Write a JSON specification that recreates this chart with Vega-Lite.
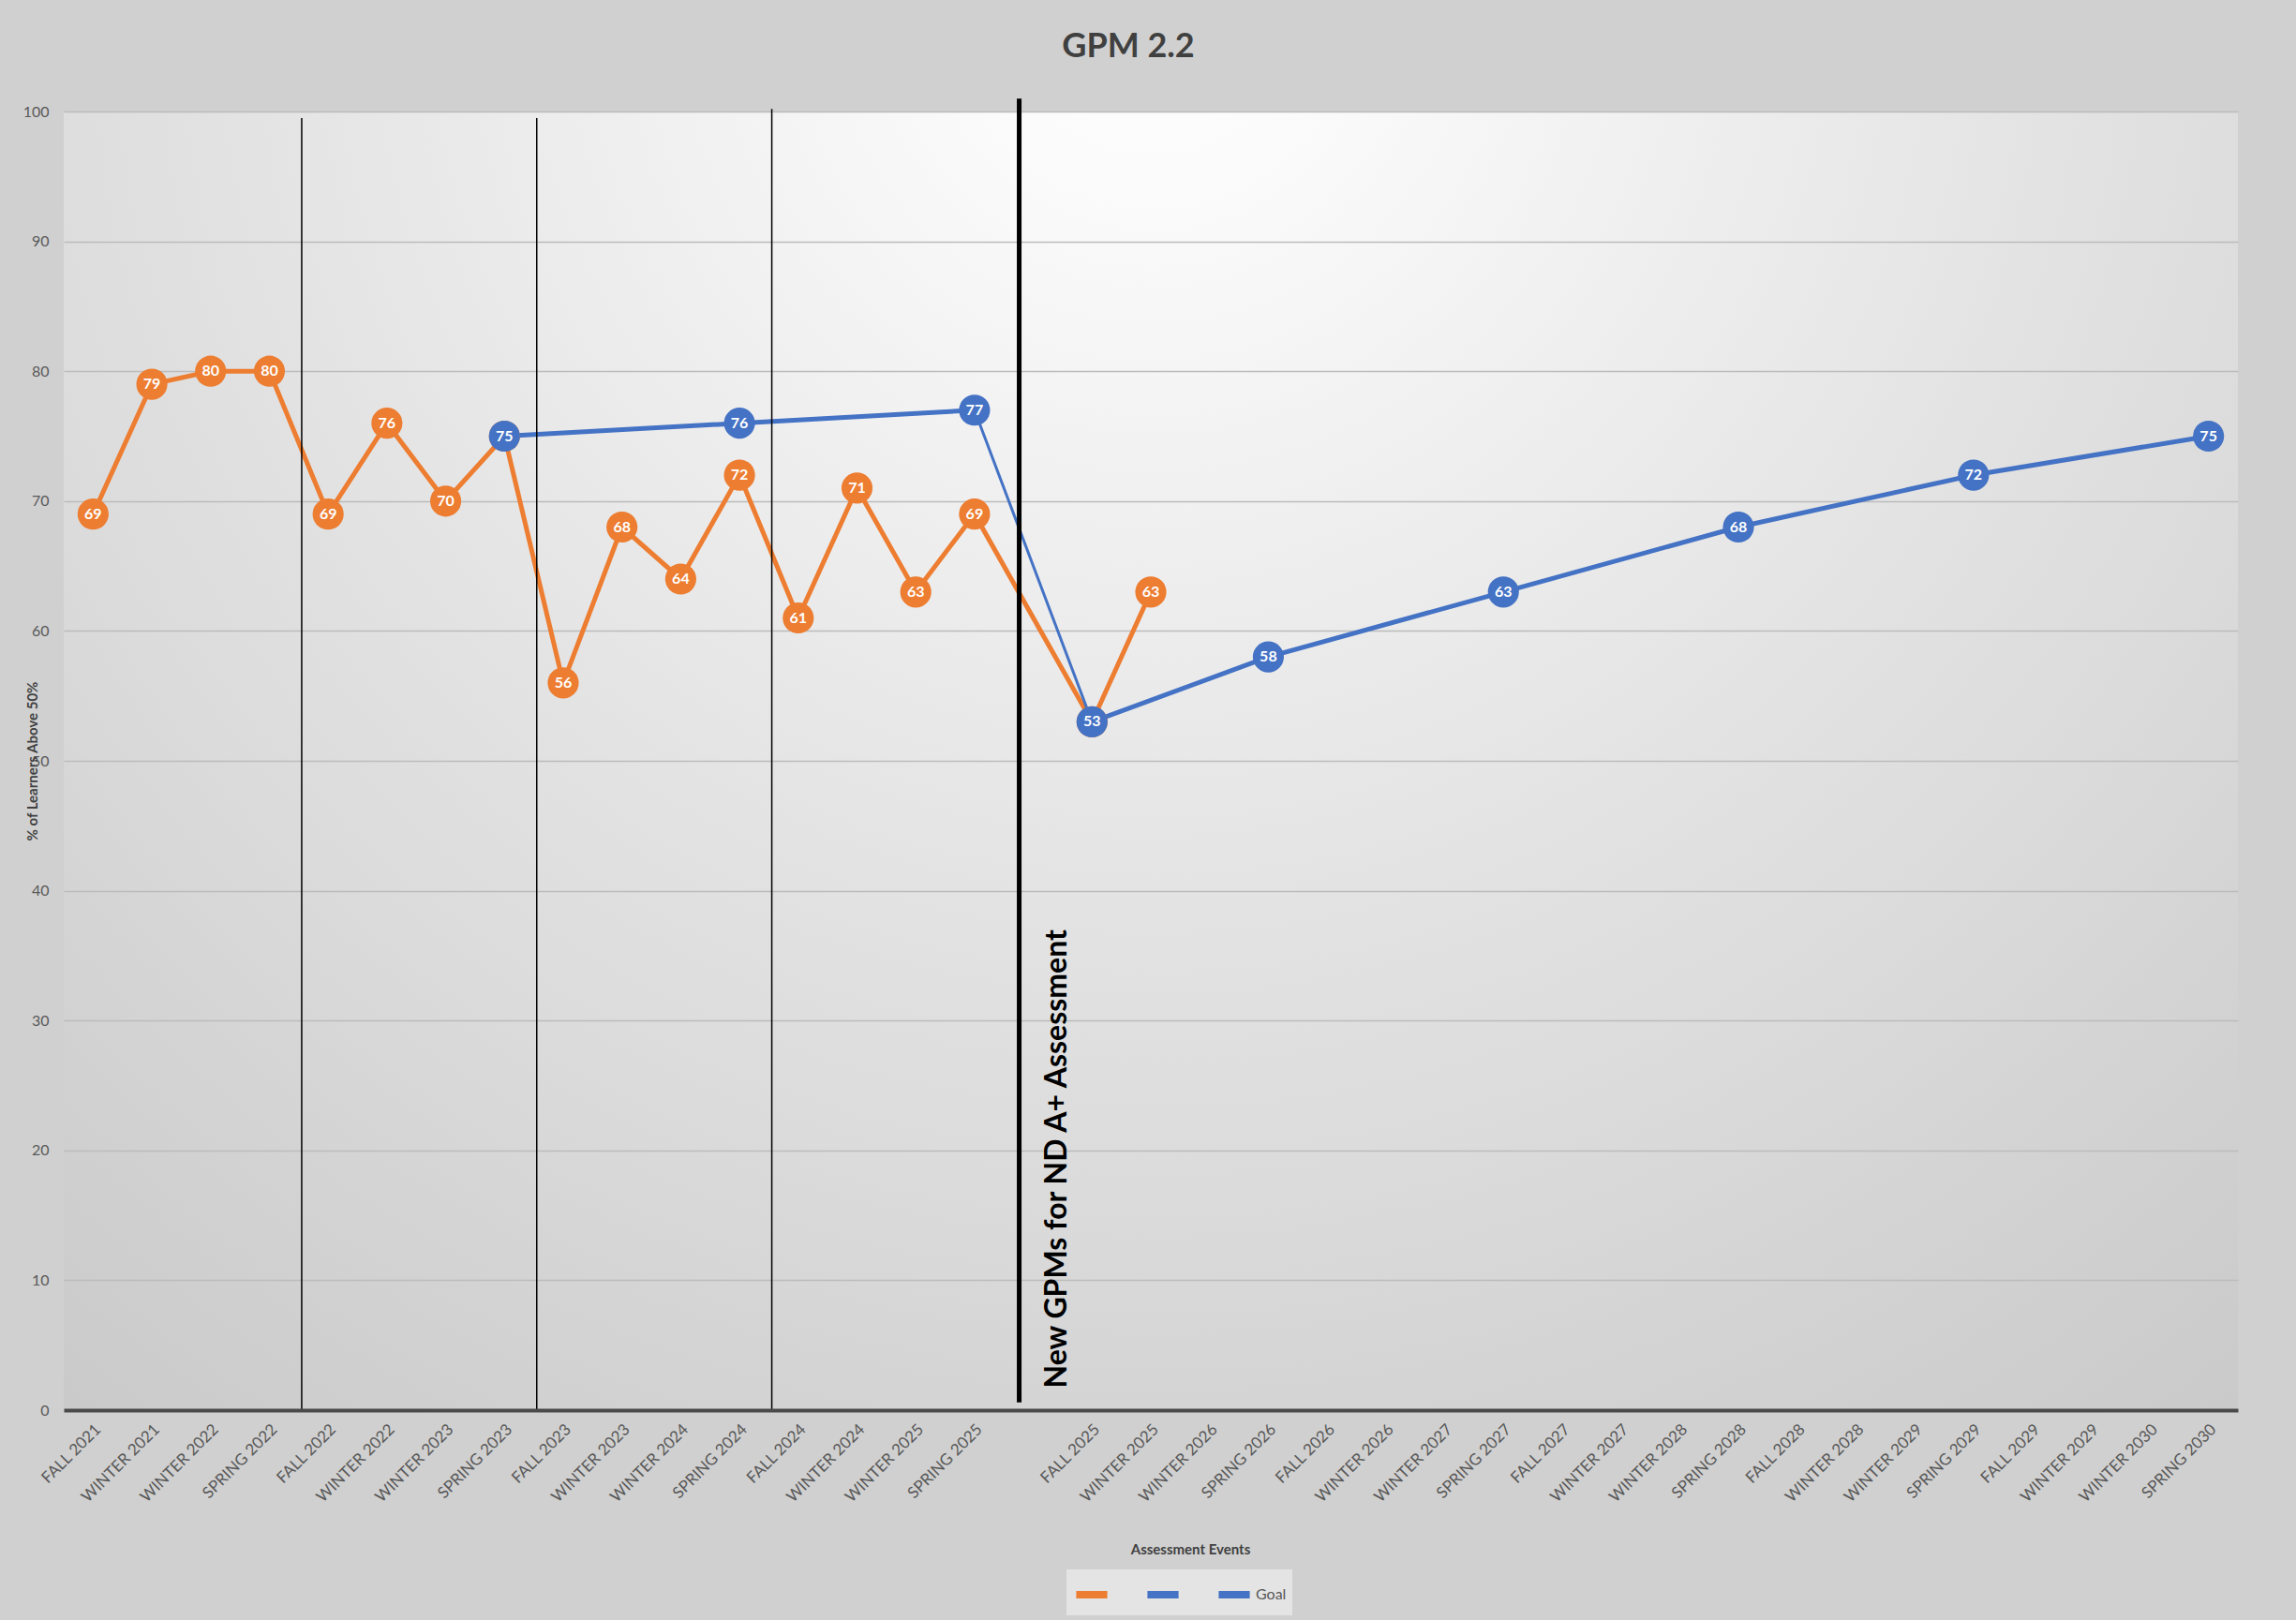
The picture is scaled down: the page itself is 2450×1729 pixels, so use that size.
{
  "$schema": "https://vega.github.io/schema/vega-lite/v6.json",
  "width": 2320,
  "height": 1386,
  "autosize": {"type": "none"},
  "padding": {"left": 68, "top": 119, "right": 62, "bottom": 224},
  "background": "#d0d0d0",
  "config": {
    "font": "Lato",
    "view": {
      "stroke": null,
      "fill": {
        "gradient": "radial",
        "x1": 0.5, "y1": 0.15, "r1": 0,
        "x2": 0.5, "y2": 0.15, "r2": 1.0,
        "stops": [
          {"offset": 0, "color": "#ffffff"},
          {"offset": 0.1, "color": "#fafafa"},
          {"offset": 0.25, "color": "#efefef"},
          {"offset": 0.45, "color": "#e1e1e1"},
          {"offset": 0.55, "color": "#dbdbdb"},
          {"offset": 0.65, "color": "#d4d4d4"},
          {"offset": 0.8, "color": "#cbcbcb"},
          {"offset": 1, "color": "#c4c4c4"}
        ]
      }
    }
  },
  "title": {
    "text": "GPM 2.2",
    "font": "Lato",
    "fontSize": 36,
    "fontWeight": "bold",
    "color": "#404040",
    "anchor": "middle",
    "offset": 34,
    "dx": -24
  },
  "datasets": {
    "series": [
      {"event": "00|FALL 2021", "series": "Actual", "value": 69, "phase": "A"},
      {"event": "01|WINTER 2021", "series": "Actual", "value": 79, "phase": "A"},
      {"event": "02|WINTER 2022", "series": "Actual", "value": 80, "phase": "A"},
      {"event": "03|SPRING 2022", "series": "Actual", "value": 80, "phase": "A"},
      {"event": "04|FALL 2022", "series": "Actual", "value": 69, "phase": "A"},
      {"event": "05|WINTER 2022", "series": "Actual", "value": 76, "phase": "A"},
      {"event": "06|WINTER 2023", "series": "Actual", "value": 70, "phase": "A"},
      {"event": "07|SPRING 2023", "series": "Actual", "value": 75, "phase": "A"},
      {"event": "08|FALL 2023", "series": "Actual", "value": 56, "phase": "A"},
      {"event": "09|WINTER 2023", "series": "Actual", "value": 68, "phase": "A"},
      {"event": "10|WINTER 2024", "series": "Actual", "value": 64, "phase": "A"},
      {"event": "11|SPRING 2024", "series": "Actual", "value": 72, "phase": "A"},
      {"event": "12|FALL 2024", "series": "Actual", "value": 61, "phase": "A"},
      {"event": "13|WINTER 2024", "series": "Actual", "value": 71, "phase": "A"},
      {"event": "14|WINTER 2025", "series": "Actual", "value": 63, "phase": "A"},
      {"event": "15|SPRING 2025", "series": "Actual", "value": 69, "phase": "A"},
      {"event": "17|FALL 2025", "series": "Actual", "value": 53, "phase": "A"},
      {"event": "18|WINTER 2025", "series": "Actual", "value": 63, "phase": "A"},
      {"event": "07|SPRING 2023", "series": "Goal", "value": 75, "phase": "old"},
      {"event": "11|SPRING 2024", "series": "Goal", "value": 76, "phase": "old"},
      {"event": "15|SPRING 2025", "series": "Goal", "value": 77, "phase": "old"},
      {"event": "17|FALL 2025", "series": "Goal", "value": 53, "phase": "new"},
      {"event": "20|SPRING 2026", "series": "Goal", "value": 58, "phase": "new"},
      {"event": "24|SPRING 2027", "series": "Goal", "value": 63, "phase": "new"},
      {"event": "28|SPRING 2028", "series": "Goal", "value": 68, "phase": "new"},
      {"event": "32|SPRING 2029", "series": "Goal", "value": 72, "phase": "new"},
      {"event": "36|SPRING 2030", "series": "Goal", "value": 75, "phase": "new"}
    ],
    "dividers": [
      {"event": "04|FALL 2022", "y": 0, "y2": 99.5},
      {"event": "08|FALL 2023", "y": 0, "y2": 99.5},
      {"event": "12|FALL 2024", "y": 0, "y2": 100.2}
    ],
    "newgpm": [
      {"event": "16|", "y": 0.6, "y2": 101, "note": "New GPMs for ND A+ Assessment", "noteY": 1.7}
    ]
  },
  "encoding": {
    "x": {
      "field": "event",
      "type": "ordinal",
      "scale": {
        "type": "band",
        "paddingInner": 0,
        "paddingOuter": 0,
        "domain": ["00|FALL 2021", "01|WINTER 2021", "02|WINTER 2022", "03|SPRING 2022", "04|FALL 2022", "05|WINTER 2022", "06|WINTER 2023", "07|SPRING 2023", "08|FALL 2023", "09|WINTER 2023", "10|WINTER 2024", "11|SPRING 2024", "12|FALL 2024", "13|WINTER 2024", "14|WINTER 2025", "15|SPRING 2025", "16|", "17|FALL 2025", "18|WINTER 2025", "19|WINTER 2026", "20|SPRING 2026", "21|FALL 2026", "22|WINTER 2026", "23|WINTER 2027", "24|SPRING 2027", "25|FALL 2027", "26|WINTER 2027", "27|WINTER 2028", "28|SPRING 2028", "29|FALL 2028", "30|WINTER 2028", "31|WINTER 2029", "32|SPRING 2029", "33|FALL 2029", "34|WINTER 2029", "35|WINTER 2030", "36|SPRING 2030"]
      },
      "axis": {
        "labelExpr": "split(datum.value, '|')[1]",
        "labelAngle": -45,
        "labelFont": "Lato",
        "labelFontSize": 17,
        "labelColor": "#595959",
        "labelPadding": 12,
        "ticks": false,
        "grid": false,
        "domainColor": "#4a4a4a",
        "domainWidth": 4,
        "title": "Assessment Events",
        "titleFont": "Lato",
        "titleFontSize": 15,
        "titleFontWeight": "bold",
        "titleColor": "#404040",
        "titleX": 1202,
        "titleY": 148,
        "titleBaseline": "middle",
        "titleAlign": "center",
        "zindex": 1
      }
    }
  },
  "layer": [
    {
      "data": {"name": "series"},
      "transform": [{"filter": "datum.series == 'Actual'"}],
      "mark": {"type": "line", "strokeWidth": 5},
      "encoding": {
        "y": {
          "field": "value",
          "type": "quantitative",
          "scale": {"domain": [0, 100], "nice": false, "zero": true},
          "axis": {
            "values": [0, 10, 20, 30, 40, 50, 60, 70, 80, 90, 100],
            "grid": true,
            "gridColor": "#bcbcbc",
            "gridWidth": 1.5,
            "domain": false,
            "ticks": false,
            "labelFont": "Lato",
            "labelFontSize": 16,
            "labelColor": "#595959",
            "labelPadding": 16,
            "title": "% of Learners Above 50%",
            "titleFont": "Lato",
            "titleFontSize": 15,
            "titleFontWeight": "bold",
            "titleColor": "#404040",
            "titleX": -34,
            "titleY": 693,
            "titleAngle": -90,
            "titleBaseline": "middle",
            "titleAlign": "center"
          }
        },
        "color": {
          "field": "series",
          "type": "nominal",
          "scale": {"domain": ["Actual", "Series 2", "Goal"], "range": ["#ED7D31", "#4472C4", "#4472C4"]},
          "legend": {
            "orient": "none",
            "legendX": 1070,
            "legendY": 1556,
            "direction": "horizontal",
            "title": null,
            "symbolType": "stroke",
            "symbolStrokeWidth": 8,
            "symbolSize": 1100,
            "labelExpr": "datum.value == 'Goal' ? 'Goal' : ''",
            "labelFont": "Lato",
            "labelFontSize": 16,
            "labelColor": "#595959",
            "labelOffset": 2,
            "columnPadding": 10,
            "fillColor": "#e4e4e4",
            "padding": 6
          }
        }
      }
    },
    {
      "data": {"name": "series"},
      "transform": [{"filter": "datum.series == 'Goal'"}],
      "mark": {"type": "line", "strokeWidth": 3},
      "encoding": {
        "y": {"field": "value", "type": "quantitative"},
        "color": {"field": "series", "type": "nominal"}
      }
    },
    {
      "data": {"name": "series"},
      "transform": [{"filter": "datum.series == 'Goal'"}],
      "mark": {"type": "line", "strokeWidth": 5},
      "encoding": {
        "y": {"field": "value", "type": "quantitative"},
        "color": {"field": "series", "type": "nominal"},
        "detail": {"field": "phase"}
      }
    },
    {
      "data": {"name": "dividers"},
      "mark": {"type": "rule", "color": "#000000", "strokeWidth": 1.5},
      "encoding": {
        "x": {"field": "event", "type": "ordinal", "bandPosition": 0.05},
        "y": {"field": "y", "type": "quantitative"},
        "y2": {"field": "y2"}
      }
    },
    {
      "data": {"name": "newgpm"},
      "mark": {"type": "rule", "color": "#000000", "strokeWidth": 5},
      "encoding": {
        "x": {"field": "event", "type": "ordinal", "bandPosition": 0.26},
        "y": {"field": "y", "type": "quantitative"},
        "y2": {"field": "y2"}
      }
    },
    {
      "data": {"name": "newgpm"},
      "mark": {"type": "text", "angle": 270, "align": "left", "baseline": "middle", "font": "Lato", "fontSize": 32, "fontWeight": "bold", "color": "#000000"},
      "encoding": {
        "x": {"field": "event", "type": "ordinal", "bandPosition": 0.91},
        "y": {"field": "noteY", "type": "quantitative"},
        "text": {"field": "note"}
      }
    },
    {
      "data": {"name": "series"},
      "transform": [{"filter": "datum.series == 'Actual'"}],
      "mark": {"type": "circle", "size": 1100, "opacity": 1},
      "encoding": {
        "y": {"field": "value", "type": "quantitative"},
        "color": {"field": "series", "type": "nominal"}
      }
    },
    {
      "data": {"name": "series"},
      "transform": [{"filter": "datum.series == 'Actual'"}],
      "mark": {"type": "text", "font": "Lato", "fontSize": 16, "fontWeight": "bold", "color": "#ffffff", "align": "center", "baseline": "middle"},
      "encoding": {
        "y": {"field": "value", "type": "quantitative"},
        "text": {"field": "value", "type": "quantitative"}
      }
    },
    {
      "data": {"name": "series"},
      "transform": [{"filter": "datum.series == 'Goal'"}],
      "mark": {"type": "circle", "size": 1100, "opacity": 1},
      "encoding": {
        "y": {"field": "value", "type": "quantitative"},
        "color": {"field": "series", "type": "nominal"}
      }
    },
    {
      "data": {"name": "series"},
      "transform": [{"filter": "datum.series == 'Goal'"}],
      "mark": {"type": "text", "font": "Lato", "fontSize": 16, "fontWeight": "bold", "color": "#ffffff", "align": "center", "baseline": "middle"},
      "encoding": {
        "y": {"field": "value", "type": "quantitative"},
        "text": {"field": "value", "type": "quantitative"}
      }
    }
  ]
}
